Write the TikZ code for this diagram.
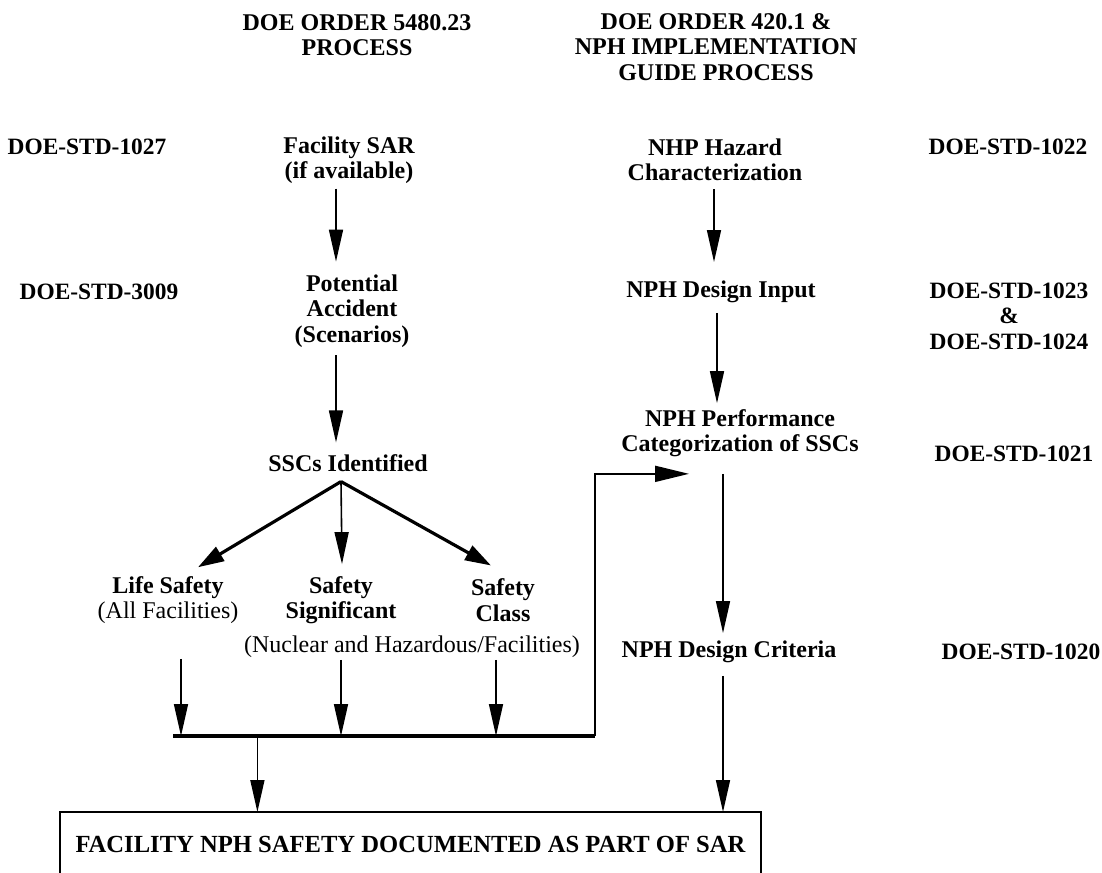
\documentclass[tikz,border=0pt]{standalone}
\usepackage{fontspec}
\setmainfont{Liberation Serif}
\usetikzlibrary{arrows.meta,calc}
\begin{document}
\begin{tikzpicture}[x=0.5pt,y=-0.5pt,
  txt/.style={font=\fontsize{12}{12.75}\selectfont\bfseries, align=center, inner sep=0pt, outer sep=0pt},
  std/.style={font=\fontsize{11.7}{12.75}\selectfont\bfseries},
  reg/.style={font=\fontsize{12}{12.75}\selectfont\mdseries},
  arr/.style={line width=0.8pt, -{Triangle[length=16pt,width=7pt]}},
  brarr/.style={line width=1.6pt, -{Triangle[length=13pt,width=8pt]}},
  harr/.style={line width=0.9pt, -{Triangle[length=17pt,width=8pt]}},
  barline/.style={line width=1.6pt},
  outbox/.style={draw, line width=1pt, minimum width=350.5pt, minimum height=32pt,
    font=\fontsize{12.3}{13}\selectfont\bfseries}]
\useasboundingbox (0,0) rectangle (1102,872);

% headers
\node[txt] (h1) at (357,35) {DOE ORDER 5480.23\\PROCESS};
\node[txt] (h2) at (716,47) {DOE ORDER 420.1 \&\\NPH IMPLEMENTATION\\GUIDE PROCESS};

% standards
\node[txt,std] (s1027) at (87,147) {DOE-STD-1027};
\node[txt,std] (s1022) at (1008,147) {DOE-STD-1022};
\node[txt,std] (s3009) at (99,292) {DOE-STD-3009};
\node[txt,std] (s1023) at (1009,316) {DOE-STD-1023\\\&\\DOE-STD-1024};
\node[txt,std] (s1021) at (1014,454) {DOE-STD-1021};
\node[txt,std] (s1020) at (1021,652) {DOE-STD-1020};

% left process
\node[txt] (sar) at (349,160) {Facility SAR\\(if available)};
\node[txt] (pot) at (352,311) {Potential\\Accident\\(Scenarios)};
\node[txt] (ssc) at (348,463) {SSCs Identified};
\node[txt] (life) at (168,600) {Life Safety\\{\mdseries(All Facilities)}};
\node[txt] (ssig) at (341,600) {Safety\\Significant};
\node[txt] (scls) at (503,600) {Safety\\Class};
\node[txt,reg] (nuc) at (412,647) {(Nuclear and Hazardous/Facilities)};

% right process
\node[txt] (nhp) at (715,160) {NHP Hazard\\Characterization};
\node[txt] (ndi) at (721,292) {NPH Design Input};
\node[txt] (nph) at (740,433) {NPH Performance\\Categorization of SSCs};
\node[txt] (ndc) at (729,652) {NPH Design Criteria};

% result box
\node[txt,outbox] (box) at (410.5,844) {FACILITY NPH SAFETY DOCUMENTED AS PART OF SAR};

% left chain
\draw[arr, shorten <=2.5pt, shorten >=6.5pt] ([xshift=-6.5pt]sar.south) -- ([xshift=-8pt]pot.north);
\draw[arr, shorten <=4pt, shorten >=6pt] ([xshift=-8pt]pot.south) -- ([xshift=-6pt]ssc.north);

% branches
\coordinate (apex) at ([xshift=-3.5pt,yshift=-5pt]ssc.south);
\draw[brarr] (apex) -- ([xshift=15pt,yshift=4.5pt]life.north);
\draw[arr] (apex) -- ([xshift=0.5pt,yshift=6pt]ssig.north);
\draw[brarr] (apex) -- ([xshift=-6pt,yshift=6.6pt]scls.north);

% collector bar
\coordinate (barL) at (173,736);
\coordinate (barR) at (595,736);
\coordinate (lA) at ([xshift=6.5pt,yshift=-17.5pt]life.south);
\coordinate (mA0) at (nuc.south -| ssig.south);
\coordinate (mA) at ([yshift=-1pt]mA0);
\coordinate (rA0) at (nuc.south -| scls.south);
\coordinate (rA) at ([xshift=-3.5pt,yshift=-1pt]rA0);
\draw[arr] (lA) -- (lA |- barL);
\draw[arr] (mA) -- (mA |- barL);
\draw[arr] (rA) -- (rA |- barL);
\draw[barline] (barL) -- (barR);
\coordinate (bm) at ($(barL)!0.2!(barR)$);
\draw[arr] (bm) -- (bm |- box.north);

% right chain
\draw[arr, shorten <=4pt, shorten >=9.5pt] ([xshift=-0.5pt]nhp.south) -- ([xshift=-3.5pt]ndi.north);
\draw[arr, shorten <=5pt, shorten >=3pt] ([xshift=-2pt]ndi.south) -- ([xshift=-11.5pt]nph.north);
\coordinate (vtop) at ([xshift=-8.5pt,yshift=-8.5pt]nph.south);
\coordinate (tipc) at ([xshift=-17pt]vtop);
\draw[harr] (barR) |- (tipc);
\draw[arr, shorten >=4pt] (vtop) -- ([xshift=-3pt]ndc.north);
\coordinate (c1) at ([xshift=-3pt,yshift=-6.5pt]ndc.south);
\draw[arr] (c1) -- (c1 |- box.north);
\end{tikzpicture}
\end{document}
